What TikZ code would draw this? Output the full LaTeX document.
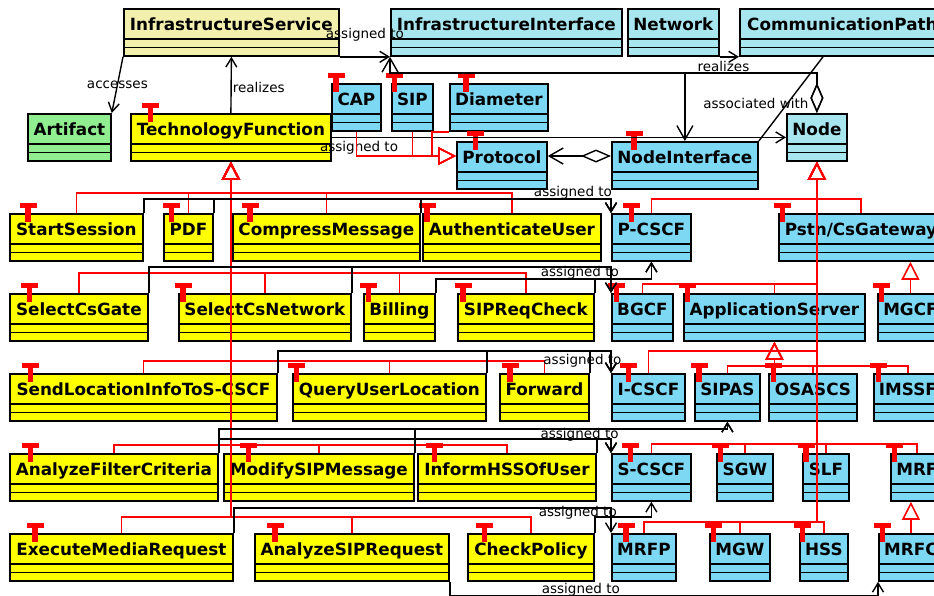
\documentclass[tikz,border=0pt]{standalone}
\usepackage{fontspec}
\setmainfont{DejaVu Sans}
\usetikzlibrary{arrows.meta}
\definecolor{fnyellow}{RGB}{255,255,0}
\definecolor{svcyellow}{HTML}{F3F0AD}
\definecolor{devblue}{HTML}{7DD8F4}
\definecolor{ifacecyan}{HTML}{A8E6EF}
\definecolor{artgreen}{HTML}{90EE90}

\begin{document}
\begin{tikzpicture}[x=1pt,y=-1pt]
        \tikzset{classbox/.style = {draw, line width=1.8pt, anchor=north west, minimum height=47pt,
            inner xsep=1.5pt, inner ysep=0pt, text height=22pt, text depth=25pt,
            font=\bfseries\fontsize{16.8}{19}\selectfont,
            path picture={\draw[line width=1.8pt]
                ([yshift=-30pt]path picture bounding box.north west) -- ([yshift=-30pt]path picture bounding box.north east)
                ([yshift=-38.5pt]path picture bounding box.north west) -- ([yshift=-38.5pt]path picture bounding box.north east);}}}
        \tikzset{fn/.style = {classbox, fill=fnyellow}}
        \tikzset{dev/.style = {classbox, fill=devblue}}
        \tikzset{iface/.style = {classbox, fill=ifacecyan}}
        \tikzset{edge/.style = {draw, line width=1.4pt, -{Straight Barb[length=9pt,width=11pt]}}}
        \tikzset{aggr/.style = {draw, line width=1.4pt, {Diamond[open,length=30pt,width=13pt]}-{Straight Barb[length=14pt,width=16pt]}}}
        \tikzset{gen/.style = {draw=red, line width=1.6pt, -{Triangle[open,length=18pt,width=18pt]}}}
        \tikzset{lbl/.style = {font=\fontsize{13.5}{16}\selectfont, inner sep=1pt}}
        \tikzset{tmark/.pic = {\fill[red] (-8.5,-10) rectangle (8.5,-5); \fill[red] (-2.8,-10) rectangle (2.8,9);}}
        \useasboundingbox (0,0) rectangle (934,595);
        \clip (0,0) rectangle (934,595);
        % classes
        \node[classbox, fill=svcyellow, minimum width=215pt] (InfraService) at (123,8) {InfrastructureService};
        \node[iface, minimum width=231pt] (InfraInterface) at (390,8) {InfrastructureInterface};
        \node[iface, minimum width=91pt] (Network) at (627,8) {Network};
        \node[iface, minimum width=205pt] (CommPath) at (739,8) {CommunicationPath};
        \node[classbox, fill=artgreen, minimum width=83pt] (Artifact) at (27,113) {Artifact};
        \node[fn, minimum width=200pt] (TechFunction) at (130,113) {TechnologyFunction};
        \node[dev, minimum width=49pt] (CAP) at (331,83) {CAP};
        \node[dev, minimum width=41pt] (SIP) at (391,83) {SIP};
        \node[dev, minimum width=98pt] (Diameter) at (449,83) {Diameter};
        \node[dev, minimum width=90pt] (Protocol) at (456,141) {Protocol};
        \node[dev, minimum width=146pt] (NodeInterface) at (611,141) {NodeInterface};
        \node[iface, minimum width=60pt] (Node) at (786,113) {Node};
        % row 2
        \node[fn, minimum width=133pt] (StartSession) at (9,213) {StartSession};
        \node[fn, minimum width=49pt] (PDF) at (163,213) {PDF};
        \node[fn, minimum width=187pt] (CompressMessage) at (232,213) {CompressMessage};
        \node[fn, minimum width=178pt] (AuthenticateUser) at (422,213) {AuthenticateUser};
        \node[dev, minimum width=79pt] (PCSCF) at (611,213) {P-CSCF};
        \node[dev, minimum width=164pt] (PstnGateway) at (778,213) {Pstn/CsGateway};
        % row 3
        \node[fn, minimum width=138pt] (SelectCsGate) at (9,293) {SelectCsGate};
        \node[fn, minimum width=172pt] (SelectCsNetwork) at (178,293) {SelectCsNetwork};
        \node[fn, minimum width=71pt] (Billing) at (363,293) {Billing};
        \node[fn, minimum width=136pt] (SIPReqCheck) at (457,293) {SIPReqCheck};
        \node[dev, minimum width=61pt] (BGCF) at (611,293) {BGCF};
        \node[dev, minimum width=181pt] (AppServer) at (683,293) {ApplicationServer};
        \node[dev, minimum width=65pt] (MGCF) at (877,293) {MGCF};
        % row 4
        \node[fn, minimum width=267pt] (SendLocation) at (9,373) {SendLocationInfoToS-CSCF};
        \node[fn, minimum width=193pt] (QueryLocation) at (292,373) {QueryUserLocation};
        \node[fn, minimum width=89pt] (Forward) at (499,373) {Forward};
        \node[dev, minimum width=73pt] (ICSCF) at (611,373) {I-CSCF};
        \node[dev, minimum width=65pt] (SIPAS) at (694,373) {SIPAS};
        \node[dev, minimum width=88pt] (OSASCS) at (768,373) {OSASCS};
        \node[dev, minimum width=68pt] (IMSSF) at (873,373) {IMSSF};
        % row 5
        \node[fn, minimum width=208pt] (AnalyzeFilter) at (9,453) {AnalyzeFilterCriteria};
        \node[fn, minimum width=190pt] (ModifySIP) at (223,453) {ModifySIPMessage};
        \node[fn, minimum width=178pt] (InformHSS) at (417,453) {InformHSSOfUser};
        \node[dev, minimum width=79pt] (SCSCF) at (611,453) {S-CSCF};
        \node[dev, minimum width=56pt] (SGW) at (716,453) {SGW};
        \node[dev, minimum width=46pt] (SLF) at (802,453) {SLF};
        \node[dev, minimum width=52pt] (MRF) at (890,453) {MRF};
        % row 6
        \node[fn, minimum width=223pt] (ExecMedia) at (9,533) {ExecuteMediaRequest};
        \node[fn, minimum width=194pt] (AnalyzeSIP) at (254,533) {AnalyzeSIPRequest};
        \node[fn, minimum width=126pt] (CheckPolicy) at (467,533) {CheckPolicy};
        \node[dev, minimum width=64pt] (MRFP) at (611,533) {MRFP};
        \node[dev, minimum width=60pt] (MGW) at (709,533) {MGW};
        \node[dev, minimum width=48pt] (HSS) at (799,533) {HSS};
        \node[dev, minimum width=64pt] (MRFC) at (878,533) {MRFC};
        % stereotype marks
        \pic at ([xshift=20.5pt]TechFunction.north west) {tmark};
        \pic at ([xshift=5pt]CAP.north west) {tmark};
        \pic at ([xshift=3.5pt]SIP.north west) {tmark};
        \pic at ([xshift=17pt]Diameter.north west) {tmark};
        \pic at ([xshift=19.5pt]Protocol.north west) {tmark};
        \pic at ([xshift=23pt]NodeInterface.north west) {tmark};
        \pic at ([xshift=19pt]StartSession.north west) {tmark};
        \pic at ([xshift=8.5pt]PDF.north west) {tmark};
        \pic at ([xshift=18pt]CompressMessage.north west) {tmark};
        \pic at ([xshift=5pt]AuthenticateUser.north west) {tmark};
        \pic at ([xshift=20.5pt]PCSCF.north west) {tmark};
        \pic at ([xshift=4.5pt]PstnGateway.north west) {tmark};
        \pic at ([xshift=20.5pt]SelectCsGate.north west) {tmark};
        \pic at ([xshift=5pt]SelectCsNetwork.north west) {tmark};
        \pic at ([xshift=5.5pt]Billing.north west) {tmark};
        \pic at ([xshift=6pt]SIPReqCheck.north west) {tmark};
        \pic at ([xshift=5.5pt]BGCF.north west) {tmark};
        \pic at ([xshift=4.5pt]AppServer.north west) {tmark};
        \pic at ([xshift=4.5pt]MGCF.north west) {tmark};
        \pic at ([xshift=21.5pt]SendLocation.north west) {tmark};
        \pic at ([xshift=4.5pt]QueryLocation.north west) {tmark};
        \pic at ([xshift=11pt]Forward.north west) {tmark};
        \pic at ([xshift=17.5pt]ICSCF.north west) {tmark};
        \pic at ([xshift=5pt]SIPAS.north west) {tmark};
        \pic at ([xshift=5.5pt]OSASCS.north west) {tmark};
        \pic at ([xshift=5.5pt]IMSSF.north west) {tmark};
        \pic at ([xshift=21.5pt]AnalyzeFilter.north west) {tmark};
        \pic at ([xshift=25.5pt]ModifySIP.north west) {tmark};
        \pic at ([xshift=17.5pt]InformHSS.north west) {tmark};
        \pic at ([xshift=19.5pt]SCSCF.north west) {tmark};
        \pic at ([xshift=4.5pt]SGW.north west) {tmark};
        \pic at ([xshift=4pt]SLF.north west) {tmark};
        \pic at ([xshift=4.5pt]MRF.north west) {tmark};
        \pic at ([xshift=26pt]ExecMedia.north west) {tmark};
        \pic at ([xshift=21pt]AnalyzeSIP.north west) {tmark};
        \pic at ([xshift=17.5pt]CheckPolicy.north west) {tmark};
        \pic at ([xshift=15pt]MRFP.north west) {tmark};
        \pic at ([xshift=4.5pt]MGW.north west) {tmark};
        \pic at ([xshift=3.5pt]HSS.north west) {tmark};
        \pic at ([xshift=4.5pt]MRFC.north west) {tmark};
        % top relations
        \draw[edge] (InfraService.south west) -- node[lbl] {accesses} (Artifact.north east);
        \draw[edge] (TechFunction.north) -- node[lbl, right, pos=0.45] {realizes} (InfraService.south);
        \draw[edge] (InfraService.south east) -- node[lbl, yshift=22pt] {assigned to} (InfraInterface.south west);
        \draw[edge] (Network.south east) -- node[lbl, below=3pt, xshift=-6pt] {realizes} (CommPath.south west);
        \draw[line width=1.4pt] ([xshift=84pt]CommPath.south west) -- node[lbl, xshift=-35pt, yshift=-5pt] {associated with} (NodeInterface.north east);
        \draw[edge] (TechFunction.east) -- node[lbl, pos=0.06, below=2pt] {assigned to} (Node.west);
        \draw[aggr] (Node.north) -- ++(0,-40) -| (InfraInterface.south west);
        \draw[aggr] (Node.north) -- ++(0,-40) -| (NodeInterface.north);
        \draw[aggr] ([yshift=-15pt]NodeInterface.north west) -- ([yshift=-15pt]Protocol.north east);
        \draw[gen] (CAP.south) |- ([yshift=-15pt]Protocol.north west);
        \draw[gen] (SIP.south) |- ([yshift=-15pt]Protocol.north west);
        \draw[gen] (Diameter.south west) -- ++(-17,0) |- ([yshift=-15pt]Protocol.north west);
        % specializations of TechnologyFunction
        \draw[gen] (StartSession.north) -- ++(0,-20) -| (TechFunction.south);
        \draw[gen] (PDF.north) -- ++(0,-20) -| (TechFunction.south);
        \draw[gen] (CompressMessage.north) -- ++(0,-20) -| (TechFunction.south);
        \draw[gen] (AuthenticateUser.north) -- ++(0,-20) -| (TechFunction.south);
        \draw[gen] (SelectCsGate.north) -- ++(0,-20) -| (TechFunction.south);
        \draw[gen] (SelectCsNetwork.north) -- ++(0,-20) -| (TechFunction.south);
        \draw[gen] (Billing.north) -- ++(0,-20) -| (TechFunction.south);
        \draw[gen] (SIPReqCheck.north) -- ++(0,-20) -| (TechFunction.south);
        \draw[gen] (SendLocation.north) -- ++(0,-12) -| (TechFunction.south);
        \draw[gen] (QueryLocation.north) -- ++(0,-12) -| (TechFunction.south);
        \draw[gen] (Forward.north) -- ++(0,-12) -| (TechFunction.south);
        \draw[gen] (AnalyzeFilter.north) -- ++(0,-8) -| (TechFunction.south);
        \draw[gen] (ModifySIP.north) -- ++(0,-8) -| (TechFunction.south);
        \draw[gen] (InformHSS.north) -- ++(0,-8) -| (TechFunction.south);
        \draw[gen] (ExecMedia.north) -- ++(0,-16) -| (TechFunction.south);
        \draw[gen] (AnalyzeSIP.north) -- ++(0,-16) -| (TechFunction.south);
        \draw[gen] (CheckPolicy.north) -- ++(0,-16) -| (TechFunction.south);
        % specializations of Node
        \draw[gen] (PCSCF.north) -- ++(0,-14) -| (Node.south);
        \draw[gen] (PstnGateway.north) -- ++(0,-14) -| (Node.south);
        \draw[gen] (BGCF.north) -- ++(0,-9) -| (Node.south);
        \draw[gen] (AppServer.north) -- ++(0,-9) -| (Node.south);
        \draw[gen] (ICSCF.north) -- ++(0,-22) -| (Node.south);
        \draw[gen] (SCSCF.north) -- ++(0,-9) -| (Node.south);
        \draw[gen] (SGW.north) -- ++(0,-9) -| (Node.south);
        \draw[gen] (SLF.north) -- ++(0,-9) -| (Node.south);
        \draw[gen] (MRF.north) -- ++(0,-9) -| (Node.south);
        \draw[gen] (MRFP.north) -- ++(0,-11) -| (Node.south);
        \draw[gen] (MGW.north) -- ++(0,-11) -| (Node.south);
        \draw[gen] (HSS.north) -- ++(0,-11) -| (Node.south);
        \draw[gen] (SIPAS.north) -- ++(0,-7) -| (AppServer.south);
        \draw[gen] (OSASCS.north) -- ++(0,-7) -| (AppServer.south);
        \draw[gen] (IMSSF.north) -- ++(0,-7) -| (AppServer.south);
        \draw[gen] (MGCF.north) -- (MGCF.north |- PstnGateway.south);
        \draw[gen] (MRFC.north) -- (MRFC.north |- MRF.south);
        % assignments
        \draw[edge] (StartSession.north east) -- ++(0,-14) -| (PCSCF.north west);
        \draw[edge] (PDF.north east) -- ++(0,-14) -| (PCSCF.north west);
        \draw[edge] (CompressMessage.north east) -- ++(0,-14) -| node[lbl, pos=0.4, yshift=6pt] {assigned to} (PCSCF.north west);
        \draw[edge] (SelectCsGate.north east) -- ++(0,-26) -| (BGCF.north west);
        \draw[edge] (SelectCsNetwork.north east) -- ++(0,-26) -| node[lbl, pos=0.44, yshift=-6pt] {assigned to} (BGCF.north west);
        \draw[edge] (Billing.north east) -- ++(0,-14) -| (PCSCF.south);
        \draw[edge] (SIPReqCheck.north east) -- ++(0,-14) -| (PCSCF.south);
        \draw[edge] (SendLocation.north east) -- ++(0,-22) -| (ICSCF.north west);
        \draw[edge] (QueryLocation.north east) -- ++(0,-22) -| node[lbl, pos=0.385, yshift=-10pt] {assigned to} (ICSCF.north west);
        \draw[edge] (Forward.north east) -- ++(0,-22) -| (ICSCF.north west);
        \draw[edge] (AnalyzeFilter.north east) -- ++(0,-24) -| (SIPAS.south);
        \draw[edge] (ModifySIP.north east) -- ++(0,-24) -| (SIPAS.south);
        \draw[edge] (AnalyzeFilter.north east) -- ++(0,-14) -| (SCSCF.north west);
        \draw[edge] (ModifySIP.north east) -- ++(0,-14) -| node[lbl, pos=0.42, yshift=4pt] {assigned to} (SCSCF.north west);
        \draw[edge] (InformHSS.north east) -- ++(0,-14) -| (SCSCF.north west);
        \draw[edge] (ExecMedia.north east) -- ++(0,-25) -| node[lbl, pos=0.456, yshift=-5pt] {assigned to} (MRFP.north west);
        \draw[edge] (CheckPolicy.north east) -- ++(0,-16) -| (SCSCF.south);
        \draw[edge] (AnalyzeSIP.south east) -- ++(0,14) -| node[lbl, pos=0.153, yshift=6pt] {assigned to} (MRFC.south west);
\end{tikzpicture}
\end{document}
